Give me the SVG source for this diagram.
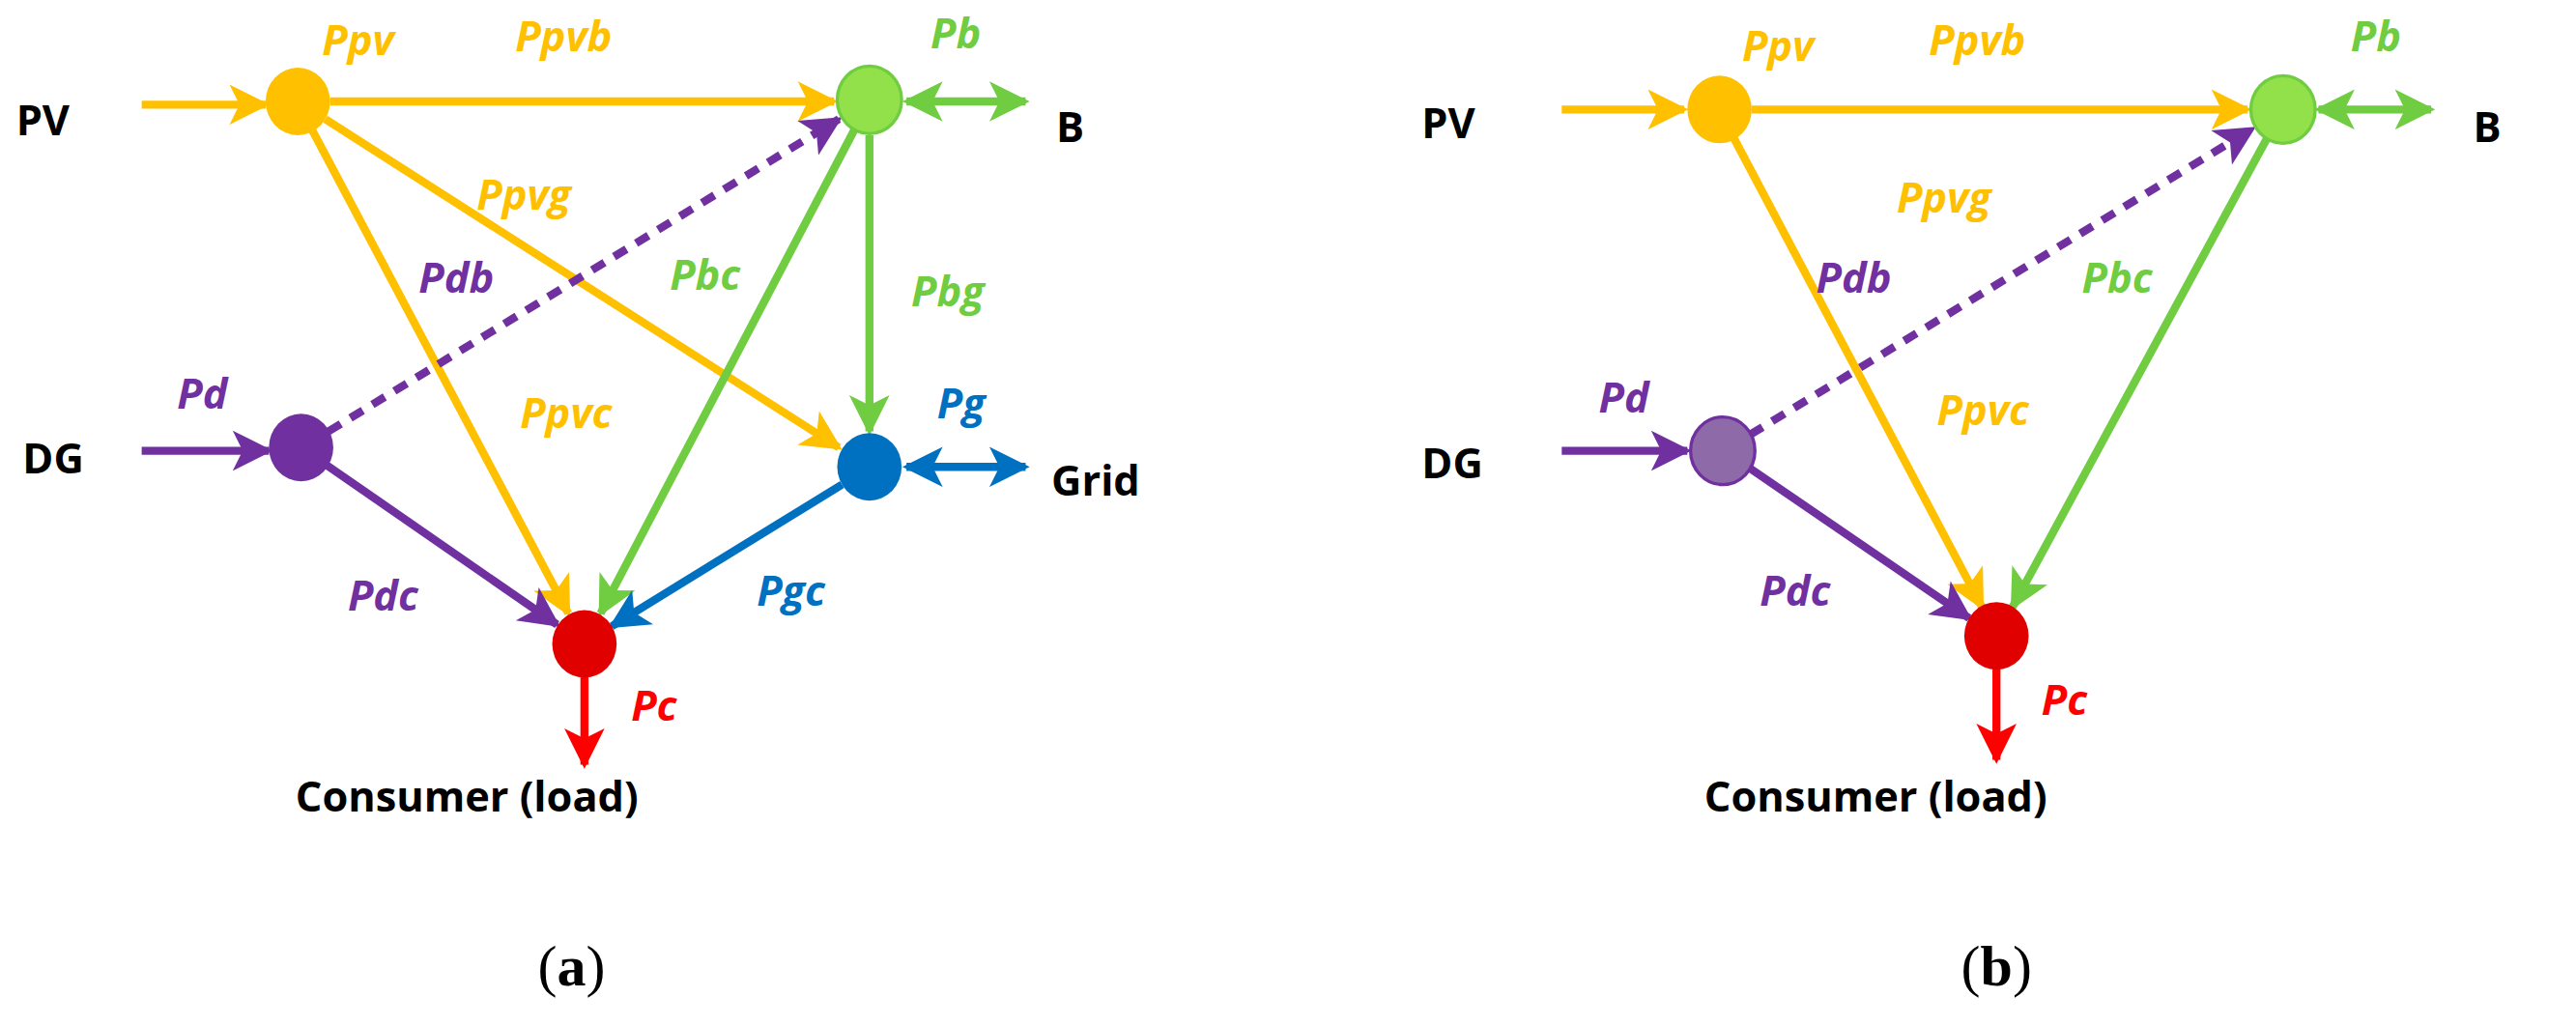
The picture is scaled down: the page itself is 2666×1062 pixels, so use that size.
<svg xmlns="http://www.w3.org/2000/svg" width="2666" height="1062" viewBox="0 0 2666 1062">
<style>
.l{fill:none;stroke-width:5}
.y{stroke:#FFC000}.g{stroke:#70CC40}.p{stroke:#7030A0}.b{stroke:#0070C0}.r{stroke:#FF0000}
.t{font-family:"Open Sans","Liberation Sans",sans-serif;font-weight:bold;font-style:italic;font-size:26px}
.k{font-family:"Open Sans","Liberation Sans",sans-serif;font-weight:bold;font-size:26px;fill:#000}
.cap{font-family:"Liberation Serif",serif;font-size:36px;fill:#000}
</style>
<defs>
<marker id="my" viewBox="0 0 10 10" refX="9" refY="5" markerWidth="5.5" markerHeight="5" orient="auto-start-reverse"><path d="M0,0L10,5L0,10L2.5,5z" fill="#FFC000"/></marker>
<marker id="mg" viewBox="0 0 10 10" refX="9" refY="5" markerWidth="5.5" markerHeight="5" orient="auto-start-reverse"><path d="M0,0L10,5L0,10L2.5,5z" fill="#70CC40"/></marker>
<marker id="mp" viewBox="0 0 10 10" refX="9" refY="5" markerWidth="5.5" markerHeight="5" orient="auto-start-reverse"><path d="M0,0L10,5L0,10L2.5,5z" fill="#7030A0"/></marker>
<marker id="mb" viewBox="0 0 10 10" refX="9" refY="5" markerWidth="5.5" markerHeight="5" orient="auto-start-reverse"><path d="M0,0L10,5L0,10L2.5,5z" fill="#0070C0"/></marker>
<marker id="mr" viewBox="0 0 10 10" refX="9" refY="5" markerWidth="5.5" markerHeight="5" orient="auto-start-reverse"><path d="M0,0L10,5L0,10L2.5,5z" fill="#FF0000"/></marker>
</defs>
<g transform="scale(1.6663)">
<g id="connectors">
<line class="l y" x1="88" y1="65" x2="165" y2="65" marker-end="url(#my)"/>
<line class="l y" x1="205" y1="63" x2="518" y2="63" marker-end="url(#my)"/>
<line class="l y" x1="202" y1="74" x2="521" y2="278" marker-end="url(#my)"/>
<line class="l y" x1="194" y1="81" x2="353" y2="381" marker-end="url(#my)"/>
<line class="l g" x1="531" y1="80" x2="373" y2="381" marker-end="url(#mg)"/>
<line class="l g" x1="540" y1="84" x2="540" y2="268" marker-end="url(#mg)"/>
<line class="l p" x1="204" y1="268" x2="521" y2="74" stroke-dasharray="9,7" marker-end="url(#mp)"/>
<line class="l p" x1="203" y1="289" x2="346" y2="388" marker-end="url(#mp)"/>
<line class="l b" x1="523" y1="301" x2="380" y2="389" marker-end="url(#mb)"/>
<line class="l r" x1="363" y1="420" x2="363" y2="475" marker-end="url(#mr)"/>
<line class="l g" x1="563" y1="63" x2="637" y2="63" marker-start="url(#mg)" marker-end="url(#mg)"/>
<line class="l b" x1="563" y1="290" x2="637" y2="290" marker-start="url(#mb)" marker-end="url(#mb)"/>
<line class="l p" x1="88" y1="280" x2="167" y2="280" marker-end="url(#mp)"/>

<line class="l y" x1="970" y1="68" x2="1046" y2="68" marker-end="url(#my)"/>
<line class="l y" x1="1088" y1="68" x2="1396" y2="68" marker-end="url(#my)"/>
<line class="l y" x1="1077" y1="86" x2="1231" y2="377" marker-end="url(#my)"/>
<line class="l g" x1="1408" y1="86" x2="1250" y2="377" marker-end="url(#mg)"/>
<line class="l p" x1="1087" y1="270" x2="1399" y2="80" stroke-dasharray="9,7" marker-end="url(#mp)"/>
<line class="l p" x1="1087" y1="291" x2="1223" y2="384" marker-end="url(#mp)"/>
<line class="l r" x1="1240" y1="415" x2="1240" y2="472" marker-end="url(#mr)"/>
<line class="l g" x1="1440" y1="68" x2="1510" y2="68" marker-start="url(#mg)" marker-end="url(#mg)"/>
<line class="l p" x1="970" y1="280" x2="1048" y2="280" marker-end="url(#mp)"/>
</g>
<g id="a-PV"><ellipse cx="185" cy="63" rx="20" ry="21" fill="#FFC000"/><text class="k" x="10" y="84" font-size="30">PV</text></g>
<g id="a-B"><ellipse cx="540" cy="62" rx="20" ry="21" fill="#92E04A" stroke="#70CC40" stroke-width="2"/><text class="k" x="656" y="88">B</text></g>
<g id="a-DG"><ellipse cx="187" cy="278" rx="20" ry="21" fill="#7030A0"/><text class="k" x="14" y="294" font-size="30">DG</text></g>
<g id="a-Grid"><ellipse cx="540" cy="290" rx="20" ry="21" fill="#0070C0"/><text class="k" x="653" y="308">Grid</text></g>
<g id="a-C"><ellipse cx="363" cy="400" rx="20" ry="21" fill="#E00000"/><text class="k" x="290" y="504" text-anchor="middle">Consumer (load)</text></g>
<g id="a-labels">
<text class="t" x="200" y="34" fill="#FFC000">Ppv</text>
<text class="t" x="320" y="32" fill="#FFC000">Ppvb</text>
<text class="t" x="578" y="30" fill="#70CC40">Pb</text>
<text class="t" x="296" y="130" fill="#FFC000">Ppvg</text>
<text class="t" x="260" y="182" fill="#7030A0">Pdb</text>
<text class="t" x="416" y="180" fill="#70CC40">Pbc</text>
<text class="t" x="566" y="190" fill="#70CC40">Pbg</text>
<text class="t" x="110" y="254" fill="#7030A0">Pd</text>
<text class="t" x="323" y="266" fill="#FFC000">Ppvc</text>
<text class="t" x="582" y="260" fill="#0070C0">Pg</text>
<text class="t" x="216" y="379" fill="#7030A0">Pdc</text>
<text class="t" x="470" y="376" fill="#0070C0">Pgc</text>
<text class="t" x="392" y="448" fill="#FF0000">Pc</text>
<text class="cap" x="355" y="612" text-anchor="middle">(<tspan font-weight="bold">a</tspan>)</text>
</g>
<g id="b-PV"><ellipse cx="1068" cy="68" rx="20" ry="21" fill="#FFC000"/><text class="k" x="883" y="86" font-size="30">PV</text></g>
<g id="b-B"><ellipse cx="1418" cy="68" rx="20" ry="21" fill="#92E04A" stroke="#70CC40" stroke-width="2"/><text class="k" x="1536" y="88">B</text></g>
<g id="b-DG"><ellipse cx="1070" cy="280" rx="20" ry="21" fill="#8E6AA8" stroke="#7030A0" stroke-width="2"/><text class="k" x="883" y="297" font-size="30">DG</text></g>
<g id="b-C"><ellipse cx="1240" cy="395" rx="20" ry="21" fill="#E00000"/><text class="k" x="1165" y="504" text-anchor="middle">Consumer (load)</text></g>
<g id="b-labels">
<text class="t" x="1082" y="38" fill="#FFC000">Ppv</text>
<text class="t" x="1198" y="34" fill="#FFC000">Ppvb</text>
<text class="t" x="1460" y="32" fill="#70CC40">Pb</text>
<text class="t" x="1178" y="132" fill="#FFC000">Ppvg</text>
<text class="t" x="1128" y="182" fill="#7030A0">Pdb</text>
<text class="t" x="1293" y="182" fill="#70CC40">Pbc</text>
<text class="t" x="993" y="256" fill="#7030A0">Pd</text>
<text class="t" x="1203" y="264" fill="#FFC000">Ppvc</text>
<text class="t" x="1093" y="376" fill="#7030A0">Pdc</text>
<text class="t" x="1268" y="444" fill="#FF0000">Pc</text>
<text class="cap" x="1240" y="612" text-anchor="middle">(<tspan font-weight="bold">b</tspan>)</text>
</g>
</g>
</svg>
